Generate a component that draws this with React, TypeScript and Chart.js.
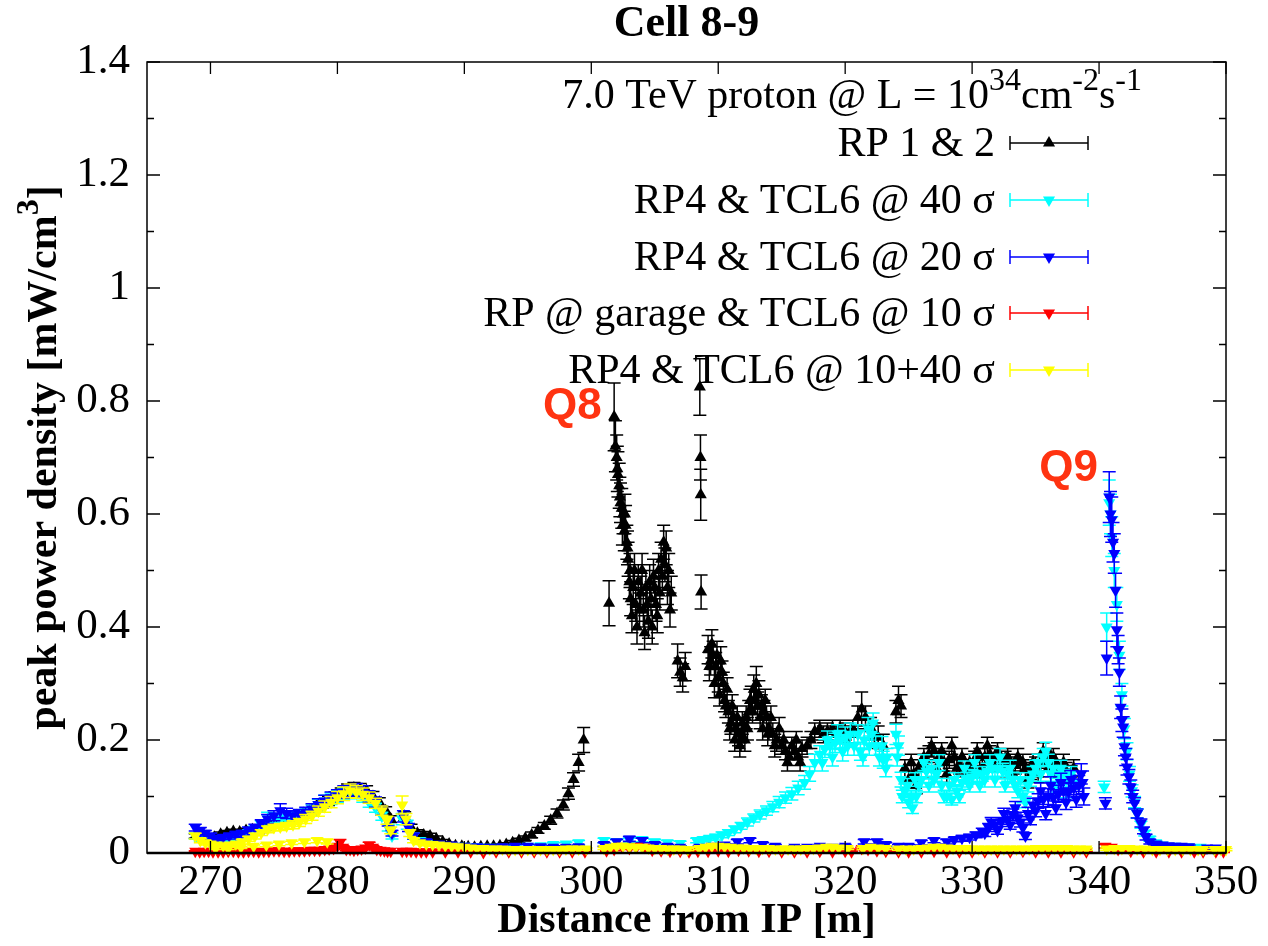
import { useEffect, useRef } from "react";
import { Chart, registerables } from "chart.js";

Chart.register(...registerables);

type Pt = [number, number, number]; // [x, y, error]

const X_MIN = 265;
const X_MAX = 350;
const Y_MIN = 0;
const Y_MAX = 1.4;
const X_MAJOR = [270, 280, 290, 300, 310, 320, 330, 340, 350];
const Y_MAJOR = [0, 0.2, 0.4, 0.6, 0.8, 1.0, 1.2, 1.4];
const Y_MINOR = [0.1, 0.3, 0.5, 0.7, 0.9, 1.1, 1.3];

const CHART_TITLE = "Cell 8-9";
const X_TITLE = "Distance from IP [m]";
const Y_TITLE = "peak power density [mW/cm";
const SERIES_LABELS = [
  "RP 1 & 2",
  "RP4 & TCL6 @ 40 σ",
  "RP4 & TCL6 @ 20 σ",
  "RP @ garage & TCL6 @ 10 σ",
  "RP4 & TCL6 @ 10+40 σ",
];
const SERIES_COLORS = ["#000000", "#00ffff", "#0000ff", "#ff0000", "#ffff00"];
const ANNOTATIONS = [
  { text: "Q8", x: 298.5, y: 0.79 },
  { text: "Q9", x: 337.6, y: 0.68 },
];

const RP12: Pt[] = [
  [268.8, 0.03, 0.004], [269.3, 0.026, 0.004], [269.8, 0.024, 0.004], [270.3, 0.028, 0.004],
  [270.8, 0.033, 0.004], [271.3, 0.036, 0.004], [271.8, 0.038, 0.004], [272.3, 0.037, 0.004],
  [272.8, 0.04, 0.004], [273.3, 0.041, 0.004], [273.8, 0.039, 0.004], [274.3, 0.045, 0.005],
  [274.8, 0.05, 0.005], [275.3, 0.055, 0.005], [275.8, 0.058, 0.005], [276.3, 0.062, 0.006],
  [276.8, 0.066, 0.006], [277.3, 0.07, 0.006], [277.8, 0.074, 0.006], [278.3, 0.08, 0.007],
  [278.8, 0.086, 0.007], [279.3, 0.092, 0.008], [279.8, 0.1, 0.008], [280.3, 0.106, 0.009],
  [280.8, 0.112, 0.01], [281.3, 0.115, 0.01], [281.8, 0.113, 0.01], [282.3, 0.11, 0.009],
  [282.8, 0.1, 0.009], [283.3, 0.09, 0.008], [283.8, 0.075, 0.007], [284.2, 0.06, 0.006],
  [285.3, 0.065, 0.008], [285.8, 0.045, 0.006], [286.3, 0.035, 0.006], [286.8, 0.032, 0.006],
  [287.3, 0.03, 0.005], [287.8, 0.025, 0.005], [288.3, 0.02, 0.004], [288.8, 0.016, 0.003],
  [289.3, 0.013, 0.003], [289.8, 0.012, 0.003], [290.3, 0.011, 0.003], [290.8, 0.01, 0.003],
  [291.3, 0.011, 0.003], [291.8, 0.012, 0.003], [292.3, 0.012, 0.003], [292.8, 0.013, 0.003],
  [293.3, 0.015, 0.003], [293.8, 0.018, 0.004], [294.3, 0.022, 0.004], [294.8, 0.026, 0.004],
  [295.3, 0.032, 0.005], [295.8, 0.04, 0.005], [296.3, 0.048, 0.006], [296.8, 0.058, 0.007],
  [297.3, 0.07, 0.008], [297.8, 0.085, 0.009], [298.2, 0.105, 0.01], [298.6, 0.13, 0.012],
  [299.0, 0.16, 0.015], [299.4, 0.2, 0.022],
  [301.4, 0.442, 0.04], [301.8, 0.772, 0.06], [301.9, 0.72, 0.045], [302.0, 0.7, 0.04],
  [302.05, 0.68, 0.04], [302.1, 0.67, 0.04], [302.2, 0.65, 0.04], [302.25, 0.63, 0.035],
  [302.3, 0.62, 0.035], [302.4, 0.61, 0.035], [302.45, 0.58, 0.035], [302.5, 0.6, 0.035],
  [302.6, 0.57, 0.035], [302.65, 0.6, 0.035], [302.7, 0.58, 0.035], [302.8, 0.55, 0.03],
  [302.85, 0.54, 0.03], [302.9, 0.52, 0.03], [303.0, 0.48, 0.03], [303.05, 0.5, 0.03],
  [303.1, 0.45, 0.03], [303.2, 0.42, 0.03], [303.3, 0.47, 0.03], [303.4, 0.5, 0.03],
  [303.5, 0.44, 0.03], [303.6, 0.4, 0.03], [303.7, 0.48, 0.03], [303.8, 0.43, 0.03],
  [303.9, 0.46, 0.03], [304.0, 0.5, 0.03], [304.1, 0.43, 0.03], [304.2, 0.39, 0.03],
  [304.3, 0.47, 0.03], [304.4, 0.44, 0.03], [304.5, 0.41, 0.03], [304.6, 0.48, 0.03],
  [304.7, 0.45, 0.03], [304.8, 0.4, 0.03], [304.9, 0.49, 0.03], [305.0, 0.47, 0.03],
  [305.1, 0.44, 0.03], [305.2, 0.42, 0.03], [305.3, 0.5, 0.03], [305.4, 0.46, 0.03],
  [305.5, 0.52, 0.03], [305.6, 0.49, 0.03], [305.7, 0.55, 0.03], [305.8, 0.51, 0.03],
  [305.9, 0.54, 0.03], [306.0, 0.47, 0.03], [306.1, 0.5, 0.03], [306.2, 0.43, 0.03],
  [306.3, 0.46, 0.03], [306.8, 0.34, 0.03], [307.0, 0.32, 0.025], [307.2, 0.31, 0.025],
  [307.4, 0.33, 0.025],
  [308.55, 0.825, 0.05], [308.6, 0.7, 0.04], [308.62, 0.634, 0.045], [308.65, 0.462, 0.03],
  [309.2, 0.36, 0.025], [309.3, 0.33, 0.025], [309.4, 0.34, 0.025], [309.5, 0.37, 0.025],
  [309.6, 0.35, 0.025], [309.7, 0.3, 0.025], [309.8, 0.33, 0.025], [309.9, 0.35, 0.025],
  [310.0, 0.31, 0.025], [310.1, 0.28, 0.02], [310.2, 0.34, 0.025], [310.3, 0.32, 0.02],
  [310.4, 0.3, 0.02], [310.5, 0.27, 0.02], [310.6, 0.26, 0.02], [310.7, 0.29, 0.02],
  [310.8, 0.25, 0.02], [310.9, 0.22, 0.02], [311.0, 0.23, 0.02], [311.1, 0.26, 0.02],
  [311.2, 0.24, 0.02], [311.3, 0.2, 0.02], [311.4, 0.22, 0.02], [311.5, 0.24, 0.02],
  [311.6, 0.21, 0.02], [311.7, 0.19, 0.02], [311.8, 0.2, 0.02], [311.9, 0.23, 0.02],
  [312.0, 0.22, 0.02], [312.1, 0.2, 0.02], [312.2, 0.24, 0.02], [312.3, 0.22, 0.02],
  [312.4, 0.25, 0.02], [312.5, 0.27, 0.02], [312.6, 0.27, 0.025], [312.7, 0.25, 0.02],
  [312.8, 0.29, 0.025], [312.9, 0.27, 0.025], [313.0, 0.3, 0.03], [313.1, 0.26, 0.025],
  [313.2, 0.28, 0.025], [313.3, 0.24, 0.02], [313.4, 0.26, 0.02], [313.5, 0.22, 0.02],
  [313.6, 0.25, 0.02], [313.7, 0.27, 0.02], [313.8, 0.24, 0.02], [313.9, 0.21, 0.02],
  [314.0, 0.22, 0.02], [314.15, 0.24, 0.02], [314.3, 0.21, 0.02], [314.45, 0.19, 0.02],
  [314.6, 0.2, 0.02], [314.8, 0.22, 0.02], [315.0, 0.19, 0.015], [315.15, 0.2, 0.015],
  [315.3, 0.18, 0.015], [315.45, 0.16, 0.015], [315.6, 0.17, 0.015], [315.8, 0.19, 0.015],
  [316.0, 0.18, 0.015], [316.15, 0.2, 0.015], [316.3, 0.17, 0.015], [316.45, 0.16, 0.015],
  [316.6, 0.185, 0.015], [317.0, 0.19, 0.015], [317.3, 0.2, 0.015], [317.6, 0.215, 0.015],
  [318.0, 0.22, 0.015], [318.3, 0.21, 0.015], [318.6, 0.215, 0.015], [319.0, 0.22, 0.015],
  [319.3, 0.21, 0.015], [319.6, 0.22, 0.015], [320.0, 0.215, 0.015], [320.3, 0.21, 0.015],
  [320.6, 0.22, 0.015], [321.0, 0.24, 0.02], [321.3, 0.255, 0.03], [321.6, 0.24, 0.02],
  [322.0, 0.22, 0.02], [322.3, 0.21, 0.02], [322.6, 0.205, 0.02], [323.0, 0.19, 0.02],
  [324.0, 0.25, 0.02], [324.2, 0.27, 0.025], [324.4, 0.26, 0.02], [324.7, 0.15, 0.015],
  [325.0, 0.13, 0.015], [325.2, 0.16, 0.015], [325.4, 0.14, 0.015], [325.6, 0.12, 0.015],
  [325.8, 0.15, 0.015], [326.0, 0.16, 0.015], [326.2, 0.17, 0.015], [326.4, 0.15, 0.015],
  [326.6, 0.175, 0.015], [326.8, 0.19, 0.015], [327.0, 0.18, 0.015], [327.2, 0.15, 0.015],
  [327.4, 0.17, 0.015], [327.6, 0.18, 0.015], [327.8, 0.16, 0.015], [328.0, 0.14, 0.015],
  [328.2, 0.165, 0.015], [328.4, 0.19, 0.015], [328.6, 0.17, 0.015], [328.8, 0.15, 0.015],
  [329.0, 0.155, 0.015], [329.2, 0.17, 0.015], [329.4, 0.15, 0.015], [329.6, 0.14, 0.015],
  [329.8, 0.16, 0.015], [330.0, 0.15, 0.015], [330.2, 0.165, 0.015], [330.4, 0.18, 0.015],
  [330.6, 0.17, 0.015], [330.8, 0.15, 0.015], [331.0, 0.17, 0.015], [331.2, 0.19, 0.015],
  [331.4, 0.175, 0.015], [331.6, 0.16, 0.015], [331.8, 0.17, 0.015], [332.0, 0.18, 0.015],
  [332.2, 0.16, 0.015], [332.4, 0.15, 0.015], [332.6, 0.165, 0.015], [332.8, 0.17, 0.015],
  [333.0, 0.16, 0.015], [333.2, 0.14, 0.015], [333.4, 0.155, 0.015], [333.6, 0.17, 0.015],
  [333.8, 0.16, 0.015], [334.0, 0.16, 0.015], [334.2, 0.15, 0.015], [334.4, 0.13, 0.015],
  [334.6, 0.145, 0.015], [334.8, 0.16, 0.015], [335.0, 0.155, 0.015], [335.2, 0.14, 0.015],
  [335.4, 0.16, 0.015], [335.6, 0.18, 0.015], [335.8, 0.165, 0.015], [336.0, 0.15, 0.015],
  [336.2, 0.17, 0.015], [336.4, 0.17, 0.015], [336.6, 0.16, 0.015], [336.8, 0.14, 0.015],
  [337.0, 0.15, 0.015], [337.2, 0.16, 0.015], [337.4, 0.145, 0.015], [337.6, 0.13, 0.015],
  [337.8, 0.14, 0.015], [338.0, 0.15, 0.015],
];

const TCL40: Pt[] = [
  [268.8, 0.03, 0.005], [269.2, 0.025, 0.004], [269.6, 0.022, 0.004], [270.0, 0.02, 0.004],
  [270.5, 0.02, 0.004], [271.0, 0.022, 0.004], [271.5, 0.025, 0.004], [272.0, 0.028, 0.005],
  [272.5, 0.032, 0.005], [273.0, 0.036, 0.005], [273.5, 0.042, 0.006], [274.0, 0.05, 0.007],
  [274.5, 0.06, 0.012], [275.0, 0.062, 0.008], [275.5, 0.058, 0.008], [276.0, 0.06, 0.008],
  [276.5, 0.064, 0.008], [277.0, 0.066, 0.008], [277.5, 0.07, 0.008], [278.0, 0.076, 0.009],
  [278.5, 0.085, 0.01], [279.0, 0.092, 0.01], [279.5, 0.096, 0.01], [280.0, 0.1, 0.01],
  [280.5, 0.105, 0.01], [281.0, 0.108, 0.01], [281.5, 0.106, 0.01], [282.0, 0.1, 0.01],
  [282.5, 0.09, 0.009], [283.0, 0.08, 0.008], [283.5, 0.065, 0.007], [284.0, 0.045, 0.006],
  [284.3, 0.03, 0.005], [285.1, 0.06, 0.01], [285.5, 0.05, 0.008], [286.0, 0.03, 0.005],
  [286.5, 0.022, 0.004], [287.0, 0.018, 0.004], [288.0, 0.015, 0.003], [289.0, 0.013, 0.003],
  [290.0, 0.012, 0.003], [291.0, 0.011, 0.003], [292.0, 0.01, 0.003], [293.0, 0.01, 0.003],
  [294.0, 0.011, 0.003], [295.0, 0.012, 0.003], [296.0, 0.013, 0.003], [297.0, 0.015, 0.003],
  [298.0, 0.016, 0.003], [299.0, 0.018, 0.004], [301.0, 0.022, 0.004], [302.0, 0.02, 0.004],
  [303.0, 0.022, 0.004], [304.0, 0.024, 0.004], [305.0, 0.02, 0.004], [306.0, 0.018, 0.004],
  [307.0, 0.017, 0.004], [308.3, 0.022, 0.004], [308.8, 0.024, 0.004], [309.3, 0.026, 0.004],
  [309.8, 0.028, 0.005], [310.3, 0.032, 0.005], [310.8, 0.036, 0.005], [311.3, 0.042, 0.006],
  [311.8, 0.048, 0.006], [312.3, 0.055, 0.007], [312.8, 0.062, 0.007], [313.3, 0.068, 0.008],
  [313.8, 0.075, 0.008], [314.3, 0.082, 0.009], [314.8, 0.09, 0.01], [315.3, 0.098, 0.01],
  [315.8, 0.105, 0.011], [316.3, 0.115, 0.012], [316.8, 0.125, 0.012], [317.2, 0.14, 0.013],
  [317.6, 0.16, 0.015], [318.0, 0.175, 0.015], [318.2, 0.16, 0.015], [318.4, 0.185, 0.016],
  [318.6, 0.2, 0.016], [318.8, 0.19, 0.016], [319.0, 0.17, 0.016], [319.2, 0.195, 0.017],
  [319.4, 0.21, 0.017], [319.6, 0.2, 0.017], [319.8, 0.18, 0.017], [320.0, 0.205, 0.018],
  [320.2, 0.19, 0.017], [320.4, 0.21, 0.02], [320.7, 0.19, 0.017], [321.0, 0.21, 0.017],
  [321.2, 0.18, 0.016], [321.4, 0.17, 0.016], [321.5, 0.2, 0.017], [321.8, 0.22, 0.02],
  [321.9, 0.19, 0.017], [322.1, 0.21, 0.018], [322.2, 0.23, 0.018], [322.4, 0.19, 0.017],
  [322.7, 0.17, 0.016], [322.9, 0.19, 0.016], [323.0, 0.165, 0.015], [323.2, 0.15, 0.015],
  [323.3, 0.17, 0.015], [324.0, 0.21, 0.018], [324.1, 0.17, 0.016], [324.2, 0.19, 0.017],
  [324.4, 0.13, 0.013], [324.5, 0.1, 0.011], [324.7, 0.11, 0.012], [324.9, 0.12, 0.012],
  [325.0, 0.09, 0.01], [325.2, 0.1, 0.011], [325.3, 0.08, 0.01], [325.5, 0.13, 0.012],
  [325.6, 0.1, 0.011], [325.8, 0.12, 0.012], [326.0, 0.13, 0.013], [326.2, 0.16, 0.014],
  [326.4, 0.145, 0.014], [326.6, 0.12, 0.012], [326.8, 0.15, 0.014], [327.0, 0.13, 0.013],
  [327.2, 0.14, 0.013], [327.4, 0.16, 0.014], [327.6, 0.12, 0.012], [327.8, 0.1, 0.011],
  [328.0, 0.1, 0.011], [328.2, 0.12, 0.012], [328.4, 0.095, 0.01], [328.6, 0.13, 0.012],
  [328.8, 0.11, 0.011], [329.0, 0.1, 0.011], [329.2, 0.125, 0.012], [329.4, 0.15, 0.013],
  [329.6, 0.13, 0.013], [329.8, 0.12, 0.012], [330.0, 0.135, 0.013], [330.2, 0.16, 0.014],
  [330.4, 0.14, 0.013], [330.6, 0.12, 0.012], [330.8, 0.14, 0.013], [331.0, 0.13, 0.013],
  [331.2, 0.145, 0.014], [331.4, 0.16, 0.014], [331.6, 0.15, 0.014], [331.8, 0.13, 0.013],
  [332.0, 0.15, 0.014], [332.2, 0.17, 0.015], [332.4, 0.145, 0.014], [332.6, 0.12, 0.012],
  [332.8, 0.14, 0.013], [333.0, 0.15, 0.014], [333.2, 0.13, 0.013], [333.4, 0.12, 0.012],
  [333.6, 0.11, 0.012], [333.8, 0.13, 0.012], [334.0, 0.1, 0.011], [334.2, 0.09, 0.01],
  [334.4, 0.12, 0.012], [334.6, 0.13, 0.012], [334.8, 0.14, 0.013], [335.0, 0.15, 0.014],
  [335.2, 0.16, 0.015], [335.4, 0.14, 0.013], [335.6, 0.17, 0.015], [335.8, 0.18, 0.016],
  [336.0, 0.16, 0.015], [336.2, 0.14, 0.013], [336.4, 0.15, 0.014], [336.6, 0.12, 0.012],
  [336.8, 0.14, 0.013], [337.0, 0.15, 0.014], [337.2, 0.135, 0.013], [337.4, 0.11, 0.012],
  [337.6, 0.13, 0.013], [337.8, 0.14, 0.013], [338.0, 0.125, 0.012],
  [340.4, 0.117, 0.01], [340.6, 0.4, 0.025], [340.8, 0.62, 0.04], [340.9, 0.6, 0.035],
  [341.0, 0.56, 0.035], [341.2, 0.5, 0.03], [341.4, 0.44, 0.03], [341.6, 0.35, 0.025],
  [341.8, 0.28, 0.02], [342.0, 0.22, 0.018], [342.2, 0.18, 0.015], [342.4, 0.14, 0.013],
  [342.6, 0.11, 0.011], [342.8, 0.09, 0.01], [343.0, 0.07, 0.008], [343.3, 0.05, 0.006],
  [343.6, 0.035, 0.005], [344.0, 0.025, 0.004], [344.5, 0.018, 0.003], [345.0, 0.014, 0.003],
  [346.0, 0.012, 0.003], [347.0, 0.011, 0.003], [348.0, 0.01, 0.003], [349.0, 0.008, 0.002],
];

const TCL20: Pt[] = [
  [268.8, 0.045, 0.006], [269.2, 0.04, 0.005], [269.6, 0.035, 0.005], [270.0, 0.03, 0.005],
  [270.5, 0.026, 0.004], [271.0, 0.028, 0.004], [271.5, 0.03, 0.005], [272.0, 0.033, 0.005],
  [272.5, 0.035, 0.005], [273.0, 0.04, 0.006], [273.5, 0.045, 0.006], [274.0, 0.052, 0.007],
  [274.5, 0.06, 0.008], [275.0, 0.066, 0.009], [275.5, 0.075, 0.012], [276.0, 0.07, 0.009],
  [276.5, 0.066, 0.009], [277.0, 0.068, 0.009], [277.5, 0.072, 0.009], [278.0, 0.078, 0.009],
  [278.5, 0.086, 0.01], [279.0, 0.092, 0.01], [279.5, 0.098, 0.01], [280.0, 0.102, 0.01],
  [280.5, 0.108, 0.011], [281.0, 0.11, 0.011], [281.5, 0.112, 0.011], [282.0, 0.108, 0.011],
  [282.5, 0.1, 0.01], [283.0, 0.09, 0.009], [283.5, 0.075, 0.008], [284.0, 0.055, 0.007],
  [284.3, 0.035, 0.005], [285.2, 0.065, 0.01], [285.6, 0.045, 0.007], [286.0, 0.03, 0.005],
  [287.0, 0.02, 0.004], [288.0, 0.016, 0.003], [289.0, 0.014, 0.003], [290.0, 0.012, 0.003],
  [291.0, 0.011, 0.003], [292.0, 0.01, 0.003], [293.0, 0.011, 0.003], [294.0, 0.012, 0.003],
  [295.0, 0.012, 0.003], [296.0, 0.011, 0.003], [297.0, 0.01, 0.003], [298.0, 0.01, 0.003],
  [299.0, 0.011, 0.003], [301.0, 0.015, 0.003], [302.0, 0.02, 0.004], [303.0, 0.025, 0.004],
  [304.0, 0.022, 0.004], [305.0, 0.015, 0.003], [306.0, 0.012, 0.003], [307.0, 0.01, 0.003],
  [308.5, 0.01, 0.003], [309.5, 0.012, 0.003], [310.5, 0.014, 0.003], [311.5, 0.02, 0.004],
  [312.5, 0.022, 0.004], [313.5, 0.015, 0.003], [314.5, 0.012, 0.003], [316.0, 0.01, 0.003],
  [317.0, 0.01, 0.003], [318.0, 0.012, 0.003], [319.0, 0.01, 0.003], [320.0, 0.012, 0.003],
  [321.5, 0.02, 0.004], [322.5, 0.02, 0.004], [323.2, 0.015, 0.003], [324.2, 0.012, 0.003],
  [325.0, 0.012, 0.003], [326.0, 0.018, 0.004], [327.0, 0.022, 0.004], [328.0, 0.02, 0.004],
  [328.6, 0.024, 0.004], [329.2, 0.026, 0.005], [329.8, 0.028, 0.005], [330.3, 0.032, 0.005],
  [330.8, 0.038, 0.006], [331.0, 0.035, 0.006], [331.3, 0.045, 0.007], [331.5, 0.055, 0.008],
  [331.8, 0.05, 0.008], [332.0, 0.04, 0.007], [332.3, 0.055, 0.008], [332.5, 0.07, 0.009],
  [332.8, 0.06, 0.009], [333.0, 0.05, 0.008], [333.2, 0.068, 0.01], [333.4, 0.08, 0.011],
  [333.6, 0.062, 0.01], [333.8, 0.055, 0.009], [334.0, 0.045, 0.008], [334.2, 0.03, 0.006],
  [334.4, 0.07, 0.011], [334.6, 0.06, 0.01], [334.8, 0.085, 0.012], [335.0, 0.075, 0.011],
  [335.2, 0.092, 0.013], [335.4, 0.11, 0.014], [335.6, 0.095, 0.013], [335.8, 0.07, 0.011],
  [336.0, 0.1, 0.014], [336.2, 0.12, 0.015], [336.4, 0.098, 0.014], [336.6, 0.08, 0.012],
  [336.8, 0.105, 0.015], [337.0, 0.125, 0.016], [337.2, 0.11, 0.015], [337.4, 0.09, 0.013],
  [337.6, 0.108, 0.015], [337.8, 0.13, 0.016], [338.0, 0.115, 0.016], [338.2, 0.095, 0.014],
  [338.4, 0.12, 0.017], [338.6, 0.14, 0.018], [338.7, 0.125, 0.02], [338.8, 0.1, 0.015],
  [340.5, 0.088, 0.01], [340.6, 0.345, 0.03], [340.8, 0.63, 0.045], [340.9, 0.6, 0.04],
  [341.0, 0.59, 0.04], [341.1, 0.55, 0.035], [341.2, 0.53, 0.035], [341.3, 0.465, 0.03],
  [341.4, 0.395, 0.03], [341.5, 0.36, 0.025], [341.6, 0.32, 0.025], [341.7, 0.258, 0.02],
  [341.8, 0.235, 0.02], [341.9, 0.223, 0.018], [342.0, 0.188, 0.016], [342.1, 0.17, 0.015],
  [342.2, 0.152, 0.014], [342.35, 0.135, 0.013], [342.5, 0.117, 0.012], [342.65, 0.1, 0.011],
  [342.8, 0.088, 0.01], [343.0, 0.07, 0.008], [343.3, 0.053, 0.007], [343.5, 0.04, 0.006],
  [343.7, 0.028, 0.005], [344.0, 0.02, 0.004], [344.5, 0.016, 0.003], [345.0, 0.014, 0.003],
  [345.5, 0.013, 0.003], [346.0, 0.012, 0.003], [346.5, 0.012, 0.003], [347.1, 0.011, 0.003],
  [348.5, 0.009, 0.002], [349.2, 0.009, 0.002],
];

const GARAGE: Pt[] = [
  [268.8, 0.003, 0.001], [269.15, 0.002, 0.001], [269.5, 0.003, 0.001], [269.85, 0.003, 0.001],
  [270.2, 0.002, 0.001], [270.6, 0.002, 0.001], [271.0, 0.002, 0.001], [271.4, 0.003, 0.001],
  [271.8, 0.003, 0.001], [272.2, 0.002, 0.001], [272.6, 0.002, 0.001], [273.0, 0.003, 0.001],
  [273.4, 0.003, 0.001], [273.8, 0.002, 0.001], [274.2, 0.003, 0.001], [274.6, 0.003, 0.001],
  [275.0, 0.004, 0.001], [275.4, 0.004, 0.001], [275.8, 0.003, 0.001], [276.2, 0.003, 0.001],
  [276.6, 0.004, 0.001], [277.0, 0.004, 0.001], [277.4, 0.004, 0.001], [277.8, 0.005, 0.001],
  [278.2, 0.005, 0.001], [278.6, 0.005, 0.001], [279.0, 0.006, 0.002], [279.35, 0.007, 0.002],
  [279.7, 0.008, 0.002], [280.0, 0.012, 0.003], [280.2, 0.018, 0.006], [280.45, 0.01, 0.003],
  [280.7, 0.006, 0.002], [281.0, 0.006, 0.002], [281.3, 0.005, 0.002], [281.6, 0.006, 0.002],
  [281.9, 0.007, 0.002], [282.2, 0.009, 0.002], [282.5, 0.014, 0.005], [282.8, 0.01, 0.003],
  [283.1, 0.006, 0.002], [283.4, 0.005, 0.002], [283.7, 0.004, 0.001], [283.95, 0.003, 0.001],
  [284.2, 0.003, 0.001], [285.1, 0.003, 0.001], [285.45, 0.003, 0.001], [285.8, 0.003, 0.001],
  [286.2, 0.002, 0.001], [286.6, 0.002, 0.001], [287.0, 0.002, 0.001], [287.5, 0.002, 0.001],
  [288.5, 0.002, 0.001], [289.5, 0.002, 0.001], [290.5, 0.002, 0.001], [291.5, 0.001, 0.001],
  [292.5, 0.002, 0.001], [293.5, 0.002, 0.001], [294.5, 0.002, 0.001], [295.5, 0.002, 0.001],
  [296.5, 0.002, 0.001], [297.5, 0.002, 0.001], [298.5, 0.002, 0.001], [299.5, 0.002, 0.001],
  [301.2, 0.004, 0.001], [301.8, 0.006, 0.002], [302.4, 0.012, 0.004], [303.0, 0.008, 0.002],
  [303.6, 0.012, 0.003], [304.2, 0.01, 0.003], [304.8, 0.005, 0.002], [305.5, 0.004, 0.001],
  [306.2, 0.003, 0.001], [307.0, 0.003, 0.001], [307.7, 0.002, 0.001], [308.4, 0.003, 0.001],
  [309.2, 0.003, 0.001], [310.0, 0.004, 0.001], [310.8, 0.003, 0.001], [311.6, 0.005, 0.002],
  [312.4, 0.004, 0.001], [313.2, 0.003, 0.001], [314.0, 0.003, 0.001], [315.0, 0.002, 0.001],
  [316.0, 0.002, 0.001], [317.0, 0.002, 0.001], [318.0, 0.003, 0.001], [319.0, 0.002, 0.001],
  [320.0, 0.003, 0.001], [320.5, 0.002, 0.001], [321.3, 0.008, 0.002], [321.8, 0.006, 0.002],
  [322.5, 0.004, 0.001], [323.2, 0.003, 0.001], [324.2, 0.002, 0.001], [325.0, 0.002, 0.001],
  [326.0, 0.002, 0.001], [327.0, 0.003, 0.001], [328.0, 0.002, 0.001], [329.0, 0.002, 0.001],
  [330.0, 0.002, 0.001], [331.0, 0.002, 0.001], [332.0, 0.002, 0.001], [333.0, 0.002, 0.001],
  [334.0, 0.003, 0.001], [335.0, 0.002, 0.001], [336.0, 0.002, 0.001], [337.0, 0.002, 0.001],
  [338.0, 0.002, 0.001], [339.0, 0.002, 0.001], [340.5, 0.012, 0.003], [341.0, 0.01, 0.003],
  [341.5, 0.006, 0.002], [342.5, 0.003, 0.001], [343.5, 0.002, 0.001], [344.5, 0.002, 0.001],
  [345.5, 0.002, 0.001], [346.5, 0.002, 0.001], [347.5, 0.002, 0.001], [348.2, 0.002, 0.001],
  [349.2, 0.002, 0.001], [349.8, 0.002, 0.001],
];

const TCL1040: Pt[] = [
  [268.8, 0.03, 0.005], [269.2, 0.022, 0.004], [269.6, 0.018, 0.004], [270.0, 0.016, 0.003],
  [270.5, 0.014, 0.003], [271.0, 0.013, 0.003], [271.5, 0.014, 0.003], [272.0, 0.016, 0.003],
  [272.5, 0.02, 0.004], [273.0, 0.025, 0.004], [273.5, 0.03, 0.005], [274.0, 0.036, 0.005],
  [274.5, 0.042, 0.006], [275.0, 0.045, 0.006], [275.5, 0.046, 0.006], [276.0, 0.048, 0.006],
  [276.5, 0.05, 0.007], [277.0, 0.054, 0.007], [277.5, 0.06, 0.008], [278.0, 0.066, 0.008],
  [278.5, 0.074, 0.009], [279.0, 0.082, 0.01], [279.5, 0.09, 0.01], [280.0, 0.098, 0.011],
  [280.5, 0.105, 0.012], [281.0, 0.11, 0.012], [281.5, 0.108, 0.011], [282.0, 0.104, 0.011],
  [282.5, 0.098, 0.01], [283.0, 0.088, 0.009], [283.5, 0.075, 0.008], [283.9, 0.058, 0.007],
  [284.2, 0.04, 0.006], [285.1, 0.085, 0.016], [285.4, 0.06, 0.01], [285.7, 0.035, 0.006],
  [270.4, 0.008, 0.002], [271.4, 0.008, 0.002], [272.4, 0.01, 0.002], [273.4, 0.012, 0.002],
  [274.4, 0.014, 0.003], [275.4, 0.016, 0.003], [276.4, 0.018, 0.003], [277.4, 0.02, 0.003],
  [278.4, 0.022, 0.004], [279.2, 0.02, 0.004],
  [286.0, 0.022, 0.004], [286.5, 0.018, 0.003], [287.0, 0.016, 0.003], [287.5, 0.015, 0.003],
  [288.0, 0.014, 0.003], [288.5, 0.013, 0.003], [289.0, 0.012, 0.003], [289.5, 0.011, 0.003],
  [290.0, 0.01, 0.002], [290.5, 0.009, 0.002], [291.0, 0.008, 0.002], [291.5, 0.008, 0.002],
  [292.0, 0.007, 0.002], [292.5, 0.007, 0.002], [293.0, 0.007, 0.002], [293.5, 0.006, 0.002],
  [294.0, 0.006, 0.002], [294.5, 0.006, 0.002], [295.0, 0.006, 0.002], [295.5, 0.006, 0.002],
  [296.0, 0.006, 0.002], [296.5, 0.006, 0.002], [297.0, 0.006, 0.002], [297.5, 0.006, 0.002],
  [298.0, 0.007, 0.002], [298.5, 0.007, 0.002], [299.0, 0.007, 0.002], [299.6, 0.007, 0.002],
  [301.0, 0.008, 0.002], [301.5, 0.01, 0.002], [302.0, 0.012, 0.003], [302.5, 0.012, 0.003],
  [303.0, 0.011, 0.003], [303.5, 0.01, 0.002], [304.0, 0.01, 0.002], [304.5, 0.009, 0.002],
  [305.0, 0.008, 0.002], [305.5, 0.008, 0.002], [306.0, 0.007, 0.002], [306.5, 0.007, 0.002],
  [307.0, 0.007, 0.002], [307.6, 0.006, 0.002], [308.5, 0.008, 0.002], [309.0, 0.01, 0.002],
  [309.5, 0.012, 0.003], [310.0, 0.012, 0.003], [310.5, 0.011, 0.003], [311.0, 0.01, 0.002],
  [311.5, 0.009, 0.002], [312.0, 0.009, 0.002], [312.5, 0.008, 0.002], [313.0, 0.008, 0.002],
  [313.5, 0.008, 0.002], [314.0, 0.008, 0.002], [314.5, 0.007, 0.002], [315.0, 0.007, 0.002],
  [315.5, 0.007, 0.002], [316.0, 0.007, 0.002], [316.5, 0.007, 0.002], [317.0, 0.008, 0.002],
  [317.5, 0.008, 0.002], [318.0, 0.009, 0.002], [318.5, 0.01, 0.002], [319.0, 0.01, 0.002],
  [319.5, 0.009, 0.002], [320.2, 0.008, 0.002], [321.4, 0.008, 0.002], [322.0, 0.01, 0.002],
  [322.6, 0.009, 0.002], [323.2, 0.008, 0.002], [324.2, 0.007, 0.002], [324.8, 0.007, 0.002],
  [325.4, 0.007, 0.002], [326.0, 0.008, 0.002], [326.5, 0.009, 0.002], [327.0, 0.01, 0.002],
  [327.5, 0.01, 0.002], [328.0, 0.009, 0.002], [328.5, 0.008, 0.002], [329.0, 0.008, 0.002],
  [329.5, 0.008, 0.002], [330.0, 0.007, 0.002], [330.5, 0.007, 0.002], [331.0, 0.007, 0.002],
  [331.5, 0.007, 0.002], [332.0, 0.007, 0.002], [332.5, 0.007, 0.002], [333.0, 0.007, 0.002],
  [333.5, 0.007, 0.002], [334.0, 0.007, 0.002], [334.5, 0.007, 0.002], [335.0, 0.008, 0.002],
  [335.5, 0.008, 0.002], [336.0, 0.008, 0.002], [336.5, 0.008, 0.002], [337.0, 0.008, 0.002],
  [337.5, 0.008, 0.002], [338.0, 0.007, 0.002], [338.5, 0.007, 0.002], [339.0, 0.007, 0.002],
  [340.6, 0.007, 0.002], [341.2, 0.008, 0.002], [341.8, 0.008, 0.002], [342.4, 0.008, 0.002],
  [343.0, 0.007, 0.002], [343.6, 0.007, 0.002], [344.2, 0.006, 0.002], [344.8, 0.006, 0.002],
  [345.4, 0.006, 0.002], [346.0, 0.006, 0.002], [346.6, 0.006, 0.002], [347.2, 0.006, 0.002],
  [347.8, 0.006, 0.002], [348.2, 0.006, 0.002], [349.1, 0.006, 0.002], [349.6, 0.006, 0.002],
  [350.0, 0.006, 0.002],
];

const SERIES_DATA: Pt[][] = [RP12, TCL40, TCL20, GARAGE, TCL1040];

const SERIF = "'Liberation Serif', 'Times New Roman', serif";
const SANS = "'Liberation Sans', Arial, sans-serif";

type Part = { t: string; sup?: boolean };

function supSize(size: number) {
  return Math.round(size * 0.76);
}

function richWidth(ctx: CanvasRenderingContext2D, parts: Part[], size: number, weight: string) {
  let w = 0;
  for (const p of parts) {
    ctx.font = `${weight} ${p.sup ? supSize(size) : size}px ${SERIF}`;
    w += ctx.measureText(p.t).width;
  }
  return w;
}

function drawRich(
  ctx: CanvasRenderingContext2D,
  parts: Part[],
  x: number,
  y: number,
  size: number,
  weight: string,
  align: "left" | "right" | "center"
) {
  const w = richWidth(ctx, parts, size, weight);
  let cx = align === "left" ? x : align === "right" ? x - w : x - w / 2;
  ctx.textAlign = "left";
  ctx.textBaseline = "alphabetic";
  for (const p of parts) {
    const s = p.sup ? supSize(size) : size;
    ctx.font = `${weight} ${s}px ${SERIF}`;
    ctx.fillText(p.t, cx, p.sup ? y - size * 0.42 : y);
    cx += ctx.measureText(p.t).width;
  }
}

function drawMarker(ctx: CanvasRenderingContext2D, x: number, y: number, r: number, up: boolean, color: string) {
  ctx.fillStyle = color;
  ctx.beginPath();
  const s = up ? -1 : 1;
  ctx.moveTo(x, y + s * r);
  ctx.lineTo(x + r * 0.866, y - s * r * 0.5);
  ctx.lineTo(x - r * 0.866, y - s * r * 0.5);
  ctx.closePath();
  ctx.fill();
}

const errorBarPlugin = {
  id: "errorBars",
  beforeDatasetDraw(chart: any, args: any) {
    const ds = chart.data.datasets[args.index];
    const xs = chart.scales.x;
    const ys = chart.scales.y;
    const ctx: CanvasRenderingContext2D = chart.ctx;
    ctx.save();
    ctx.strokeStyle = ds.borderColor;
    ctx.lineWidth = 1.5;
    const cap = 6.5;
    ctx.beginPath();
    for (const p of ds.data) {
      const px = xs.getPixelForValue(p.x);
      const top = ys.getPixelForValue(p.y + p.e);
      const bot = ys.getPixelForValue(p.y - p.e);
      ctx.moveTo(px, top);
      ctx.lineTo(px, bot);
      ctx.moveTo(px - cap, top);
      ctx.lineTo(px + cap, top);
      ctx.moveTo(px - cap, bot);
      ctx.lineTo(px + cap, bot);
    }
    ctx.stroke();
    ctx.restore();
  },
};

const decorPlugin = {
  id: "decor",
  afterDraw(chart: any) {
    const ctx: CanvasRenderingContext2D = chart.ctx;
    const a = chart.chartArea;
    const xs = chart.scales.x;
    const ys = chart.scales.y;
    ctx.save();

    // frame and zero axis
    ctx.strokeStyle = "#000";
    ctx.lineWidth = 1.5;
    ctx.strokeRect(a.left, a.top, a.right - a.left, a.bottom - a.top);
    ctx.lineWidth = 2.4;
    const y0 = ys.getPixelForValue(0);
    ctx.beginPath();
    ctx.moveTo(a.left, y0);
    ctx.lineTo(a.right, y0);
    ctx.stroke();

    // inward ticks
    ctx.lineWidth = 1.3;
    ctx.beginPath();
    for (const v of X_MAJOR) {
      const px = xs.getPixelForValue(v);
      ctx.moveTo(px, a.bottom);
      ctx.lineTo(px, a.bottom - 12);
      ctx.moveTo(px, a.top);
      ctx.lineTo(px, a.top + 12);
    }
    for (const v of Y_MAJOR) {
      const py = ys.getPixelForValue(v);
      ctx.moveTo(a.left, py);
      ctx.lineTo(a.left + 13, py);
      ctx.moveTo(a.right, py);
      ctx.lineTo(a.right - 13, py);
    }
    for (const v of Y_MINOR) {
      const py = ys.getPixelForValue(v);
      ctx.moveTo(a.left, py);
      ctx.lineTo(a.left + 7, py);
      ctx.moveTo(a.right, py);
      ctx.lineTo(a.right - 7, py);
    }
    ctx.stroke();

    // title
    ctx.fillStyle = "#000";
    ctx.font = `bold 44px ${SERIF}`;
    ctx.textAlign = "center";
    ctx.textBaseline = "alphabetic";
    ctx.fillText(CHART_TITLE, (a.left + a.right) / 2, 36);

    // x title
    ctx.font = `bold 42px ${SERIF}`;
    ctx.fillText(X_TITLE, (a.left + a.right) / 2, 932);

    // y title (rotated)
    ctx.save();
    ctx.translate(56, (a.top + a.bottom) / 2);
    ctx.rotate(-Math.PI / 2);
    drawRich(ctx, [{ t: Y_TITLE }, { t: "3", sup: true }, { t: "]" }], 0, 0, 42, "bold", "center");
    ctx.restore();

    // legend
    const textRight = 995;
    const symL = 1010;
    const symR = 1088;
    ctx.fillStyle = "#000";
    drawRich(
      ctx,
      [
        { t: "7.0 TeV proton @ L = 10" },
        { t: "34", sup: true },
        { t: "cm" },
        { t: "-2", sup: true },
        { t: "s" },
        { t: "-1", sup: true },
      ],
      1142,
      108,
      42,
      "normal",
      "right"
    );
    const rows = [143, 200, 257, 313, 370];
    chart.data.datasets.forEach((ds: any, i: number) => {
      const ry = rows[i];
      ctx.fillStyle = "#000";
      ctx.font = `42px ${SERIF}`;
      ctx.textAlign = "right";
      ctx.textBaseline = "middle";
      ctx.fillText(ds.label, textRight, ry + 2);
      ctx.strokeStyle = ds.borderColor;
      ctx.lineWidth = 1.5;
      ctx.beginPath();
      ctx.moveTo(symL, ry);
      ctx.lineTo(symR, ry);
      ctx.moveTo(symL, ry - 7);
      ctx.lineTo(symL, ry + 7);
      ctx.moveTo(symR, ry - 7);
      ctx.lineTo(symR, ry + 7);
      ctx.stroke();
      drawMarker(ctx, (symL + symR) / 2, ry, 7, i === 0, ds.borderColor);
    });

    // annotations
    ctx.fillStyle = "#ff3311";
    ctx.font = `bold 44px ${SANS}`;
    ctx.textAlign = "center";
    ctx.textBaseline = "middle";
    for (const an of ANNOTATIONS) {
      ctx.fillText(an.text, xs.getPixelForValue(an.x), ys.getPixelForValue(an.y));
    }
    ctx.restore();
  },
};

const fmt = (v: any) => `${+Number(v).toFixed(2)}`;

export default function App() {
  const ref = useRef<HTMLCanvasElement | null>(null);
  useEffect(() => {
    if (!ref.current) return;
    const datasets = SERIES_DATA.map((pts, i) => ({
      label: SERIES_LABELS[i],
      data: pts.map(([x, y, e]) => ({ x, y, e })),
      backgroundColor: SERIES_COLORS[i],
      borderColor: SERIES_COLORS[i],
      pointStyle: "triangle",
      rotation: i === 0 ? 0 : 180,
      pointRadius: 7,
      pointBorderWidth: 0,
      showLine: false,
      clip: false as any,
      order: 5 - i,
    }));
    const chart = new Chart(ref.current, {
      type: "scatter",
      data: { datasets: datasets as any },
      options: {
        animation: false,
        responsive: true,
        maintainAspectRatio: false,
        layout: { padding: { top: 62, right: 42, left: 0, bottom: 0 } },
        plugins: { legend: { display: false }, tooltip: { enabled: false }, title: { display: false } },
        scales: {
          x: {
            type: "linear",
            min: X_MIN,
            max: X_MAX,
            grid: { display: false, drawTicks: false },
            border: { display: false },
            afterFit: (s: any) => {
              s.height = 93;
            },
            afterBuildTicks: (s: any) => {
              s.ticks = X_MAJOR.map((v) => ({ value: v }));
            },
            ticks: {
              padding: 4,
              color: "#000",
              font: { family: SERIF, size: 43 },
              maxRotation: 0,
              autoSkip: false,
              callback: fmt,
            },
          },
          y: {
            type: "linear",
            min: Y_MIN,
            max: Y_MAX,
            grid: { display: false, drawTicks: false },
            border: { display: false },
            afterFit: (s: any) => {
              s.width = 147;
            },
            afterBuildTicks: (s: any) => {
              s.ticks = Y_MAJOR.map((v) => ({ value: v }));
            },
            ticks: {
              padding: 17,
              color: "#000",
              font: { family: SERIF, size: 43 },
              autoSkip: false,
              callback: fmt,
            },
          },
        },
      },
      plugins: [errorBarPlugin, decorPlugin],
    });
    return () => chart.destroy();
  }, []);
  return (
    <div style={{ position: "fixed", left: 0, top: 0, width: 1268, height: 946, background: "#fff" }}>
      <canvas ref={ref} />
    </div>
  );
}
